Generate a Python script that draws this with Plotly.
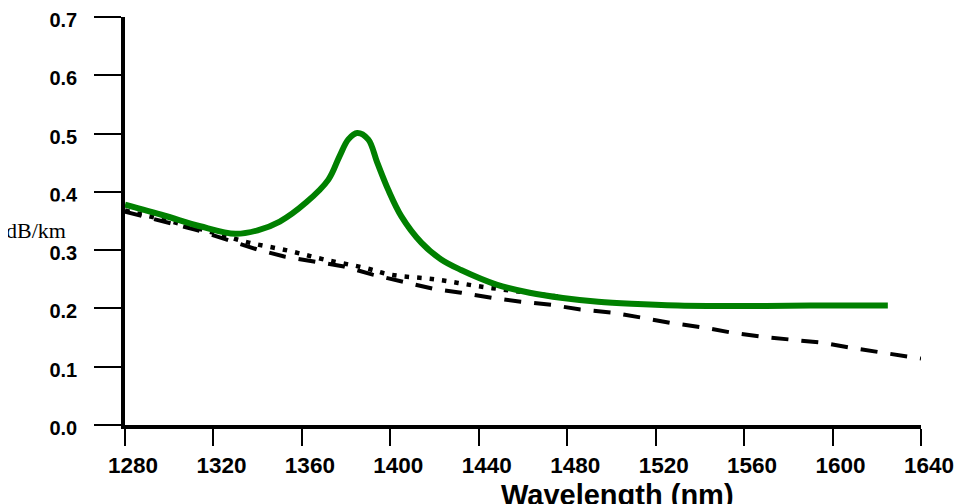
import plotly.graph_objects as go

# Green solid curve (water-peak fibre)
green_x = [1280, 1298, 1314, 1330, 1340, 1350, 1362, 1372, 1377, 1381, 1385, 1390, 1394, 1399,
           1405, 1414, 1423, 1432, 1448, 1463, 1478, 1494, 1509, 1530, 1560, 1590, 1625]
green_y = [0.378, 0.359, 0.341, 0.328, 0.334, 0.349, 0.382, 0.421, 0.461, 0.490, 0.501, 0.490,
           0.451, 0.404, 0.358, 0.313, 0.284, 0.266, 0.241, 0.227, 0.218, 0.2115, 0.208, 0.205,
           0.204, 0.205, 0.205]

# Dotted curve
dot_x = [1280, 1300, 1320, 1336, 1354, 1370, 1388, 1400, 1420, 1440, 1460, 1479]
dot_y = [0.368, 0.350, 0.330, 0.313, 0.299, 0.284, 0.270, 0.258, 0.250, 0.238, 0.228, 0.219]

# Dashed curve
dash_x = [1280, 1300, 1312, 1326, 1340, 1352, 1365, 1379, 1392, 1406, 1419, 1432, 1446, 1459,
          1473, 1486, 1500, 1514, 1527, 1542, 1555, 1569, 1582, 1596, 1609, 1623, 1636, 1640]
dash_y = [0.366, 0.347, 0.335, 0.318, 0.301, 0.289, 0.280, 0.272, 0.258, 0.246, 0.234, 0.227,
          0.218, 0.2115, 0.206, 0.198, 0.193, 0.184, 0.175, 0.167, 0.158, 0.151, 0.146, 0.141,
          0.132, 0.124, 0.117, 0.114]

x_ticks = [1280, 1320, 1360, 1400, 1440, 1480, 1520, 1560, 1600, 1640]
y_ticks = [0.0, 0.1, 0.2, 0.3, 0.4, 0.5, 0.6, 0.7]
x_title = "Wavelength (nm)"
y_title = "dB/km"

L, R, T, B = 117, 42, 9, 79
W, H = 955, 496
PW, PH = W - L - R, H - T - B

fig = go.Figure()
fig.add_trace(go.Scatter(x=dash_x, y=dash_y, mode="lines",
                         line=dict(color="black", width=4, dash="17px,13px"),
                         showlegend=False))
fig.add_trace(go.Scatter(x=dot_x, y=dot_y, mode="lines",
                         line=dict(color="black", width=4.5, dash="4.5px,8px", shape="spline"),
                         showlegend=False))
fig.add_trace(go.Scatter(x=green_x, y=green_y, mode="lines",
                         line=dict(color="#008000", width=6, shape="spline", smoothing=1),
                         showlegend=False))

fig.update_layout(
    width=W, height=H,
    margin=dict(l=L, r=R, t=T, b=B, autoexpand=False),
    paper_bgcolor="white", plot_bgcolor="white",
    font=dict(family="Liberation Sans, Arial, sans-serif", color="black"),
    xaxis=dict(range=[1280, 1640], tickvals=x_ticks, ticktext=[str(v) for v in x_ticks],
               automargin=False, ticklabeloverflow="allow",
               showgrid=False, zeroline=False, showline=True, linewidth=3.5, linecolor="black",
               ticks="outside", ticklen=17, tickwidth=1.5, tickcolor="black",
               tickfont=dict(size=22.5, weight="bold", family="Liberation Sans, Arial"),
               ticklabelstandoff=0, ticklabelshift=8),
    yaxis=dict(range=[0, 0.7], tickvals=y_ticks, ticktext=["%.1f" % v for v in y_ticks],
               automargin=False, ticklabeloverflow="allow",
               showgrid=False, zeroline=False, showline=True, linewidth=3.5, linecolor="black",
               ticks="outside", ticklen=27, tickwidth=1.5, tickcolor="black",
               tickfont=dict(size=20, weight="bold", family="Liberation Sans, Arial"),
               ticklabelstandoff=13, ticklabelshift=3),
    annotations=[
        dict(text=x_title, xref="paper", yref="paper", x=(609 - L) / PW, y=-(469 - (H - B)) / PH,
             xanchor="center", yanchor="top", showarrow=False,
             font=dict(size=29, weight="bold", family="Liberation Sans, Arial")),
        dict(text=y_title, xref="paper", yref="paper", x=(-4 - L) / PW, y=((H - B) - 193) / PH,
             xanchor="left", yanchor="top", showarrow=False, width=78, height=40,
             align="left", valign="bottom", bgcolor="white",
             font=dict(size=22, family="Liberation Serif, Times New Roman, serif")),
    ],
)

fig.write_html("out.html")
